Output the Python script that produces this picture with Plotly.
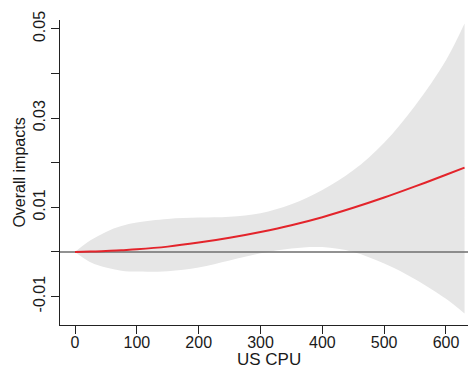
import plotly.graph_objects as go

# US CPU grid and estimated overall impact with its confidence band
us_cpu = [0, 25, 50, 75, 100, 150, 200, 250, 300, 350, 400, 450, 500, 550, 600, 630]
impact = [0.0, 0.0001, 0.0002, 0.0004, 0.0006, 0.0012, 0.0021, 0.0032, 0.0045,
          0.0060, 0.0078, 0.0099, 0.0122, 0.0147, 0.0173, 0.0189]
upper = [0.0, 0.0026, 0.0045, 0.0058, 0.0066, 0.0074, 0.0077, 0.0079, 0.0087,
         0.0107, 0.0139, 0.0183, 0.0245, 0.0328, 0.0430, 0.0512]
lower = [0.0, -0.0023, -0.0035, -0.0042, -0.0044, -0.0043, -0.0035, -0.0019, -0.0003,
         0.0008, 0.0011, 0.0000, -0.0026, -0.0061, -0.0105, -0.0138]

x_ticks = [0, 100, 200, 300, 400, 500, 600]
y_ticks = [-0.01, 0.0, 0.01, 0.02, 0.03, 0.04, 0.05]
y_tick_text = ["-0.01", "", "0.01", "", "0.03", "", "0.05"]

x_range = [-24.3, 635.6]
y_range = [-0.01637, 0.0520]

FONT = "Liberation Sans, Arial, sans-serif"
SPLINE = dict(shape="spline", smoothing=1.0)

fig = go.Figure()

# Confidence band
fig.add_trace(go.Scatter(x=us_cpu, y=lower, mode="lines",
                         line=dict(width=0, **SPLINE),
                         hoverinfo="skip", showlegend=False))
fig.add_trace(go.Scatter(x=us_cpu, y=upper, mode="lines", fill="tonexty",
                         fillcolor="#e6e6e6",
                         line=dict(width=0, **SPLINE),
                         hoverinfo="skip", showlegend=False))

# Zero reference line
fig.add_trace(go.Scatter(x=x_range, y=[0, 0], mode="lines",
                         line=dict(color="#6e6e6e", width=1.5),
                         hoverinfo="skip", showlegend=False))

# Point estimate
fig.add_trace(go.Scatter(x=us_cpu, y=impact, mode="lines",
                         line=dict(color="#e3242b", width=2, **SPLINE),
                         showlegend=False))

fig.update_layout(
    width=470, height=369,
    margin=dict(l=60, r=2, t=20, b=44),
    paper_bgcolor="white", plot_bgcolor="white",
    font=dict(family=FONT, size=16, color="#1a1a1a"),
    showlegend=False,
)

fig.update_xaxes(
    range=x_range, tickvals=x_ticks, ticktext=[str(v) for v in x_ticks],
    showgrid=False, zeroline=False, automargin=False,
    showline=True, linecolor="#222222", linewidth=1,
    ticks="outside", ticklen=8, tickcolor="#222222", tickwidth=1,
    tickfont=dict(size=16), ticklabelstandoff=-5,
)

# x-axis title placed just under the tick labels
fig.add_annotation(text="US CPU", xref="paper", yref="paper",
                   x=0.512, y=-0.114, xanchor="center", yanchor="middle",
                   showarrow=False, font=dict(size=17))

fig.update_yaxes(
    range=y_range, tickvals=y_ticks, ticktext=y_tick_text, tickangle=-90,
    showgrid=False, zeroline=False, automargin=False,
    showline=True, linecolor="#222222", linewidth=1,
    ticks="outside", ticklen=8, tickcolor="#222222", tickwidth=1,
    tickfont=dict(size=16),
    title=dict(text="Overall impacts", font=dict(size=16), standoff=0),
)

fig.write_html("out.html")
